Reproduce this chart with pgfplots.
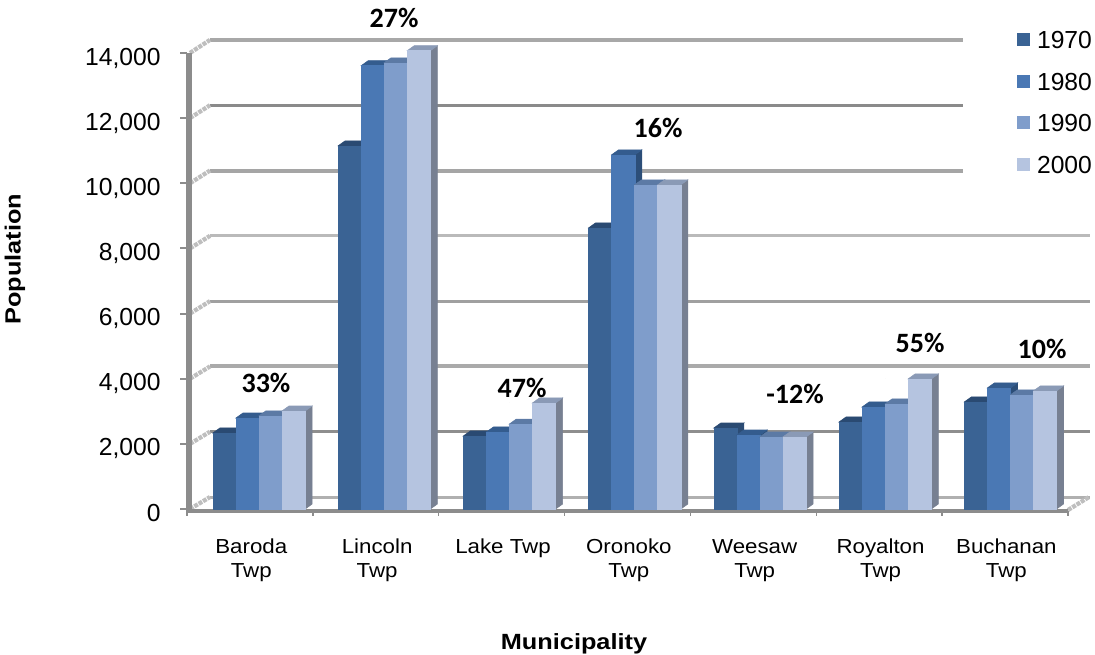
\documentclass[border=0pt]{standalone}
\usepackage{fontspec}
\usepackage{pgfplots}
\usepackage{pgfplotstable}
\pgfplotsset{compat=1.18}
\setmainfont{Liberation Sans}
\newfontfamily\catfont[FakeStretch=1.1]{Liberation Sans}
\newfontfamily\titlefont[FakeStretch=1.15]{Liberation Sans Bold}
\newfontfamily\pctfont{Carlito Bold}
% two-line category label, same height whatever the letters
\newcommand\cl[2]{\rule{0pt}{14pt}#1\\#2\rule[-4pt]{0pt}{4pt}}

\definecolor{c70}{RGB}{58,99,148}
\definecolor{c80}{RGB}{74,120,180}
\definecolor{c90}{RGB}{127,157,203}
\definecolor{c00}{RGB}{181,196,224}
\definecolor{s70}{RGB}{44,76,116}
\definecolor{s80}{RGB}{44,78,120}
\definecolor{s90}{RGB}{92,118,156}
\definecolor{s00}{RGB}{119,128,146}
\definecolor{t70}{RGB}{42,74,114}
\definecolor{t80}{RGB}{52,92,142}
\definecolor{t90}{RGB}{92,122,165}
\definecolor{t00}{RGB}{138,154,182}
\definecolor{axisgray}{RGB}{140,140,140}
\definecolor{wallgray}{RGB}{190,190,190}

% group centres are a little right of the category centres (depth of the 3D look)
\pgfplotstableread{
x     a1970 a1980 a1990 a2000
0.072 2335  2795  2860  3010
1.067 11150 13610 13700 14070
2.062 2243  2366  2610  3256
3.057 8632  10875 9953  9953
4.052 2488  2273  2212  2212
5.047 2673  3133  3226  3994
6.042 3287  3717  3502  3625
}\popdata

% one 3D bar per point: offset, front, side, top colour
\pgfplotsset{
  bar3d/.style n args={4}{
    only marks, scatter, mark=square*, mark size=0pt,
    visualization depends on={y \as \barval},
    scatter/@pre marker code/.code={
      \begingroup
      \pgftransformreset
      \path (axis direction cs:0,\barval);
      \pgfgetlastxy{\tmpx}{\tmpy}
      \xdef\barh{\tmpy}
      \endgroup
      \fill[#3] (#1+8.7pt,0pt) -- (#1+13.95pt,3.75pt) -- (#1+13.95pt,-\barh+3.75pt) -- (#1+8.7pt,-\barh) -- cycle;
      \fill[#4] (#1-8.7pt,0pt) -- (#1-3.45pt,3.75pt) -- (#1+13.95pt,3.75pt) -- (#1+8.7pt,0pt) -- cycle;
      \fill[#2] (#1-8.7pt,0pt) rectangle (#1+8.7pt,-\barh);
    },
    scatter/@post marker code/.code={},
    legend image code/.code={\fill[#2] (0pt,-4.5pt) rectangle (9pt,4.5pt);},
  },
}

\begin{document}
\begin{tikzpicture}
\useasboundingbox (0pt,0pt) rectangle (821.25pt,-490.5pt);
\begin{scope}[x=0.75pt,y=-0.75pt]
  % back wall and side wall
  \foreach \k/\xe/\col/\lw in {0/1090/176/3,1/1090/142/3,2/1090/170/4,3/1090/160/3,4/1090/186/3,5/963/165/4,6/963/138/3,7/963/168/4}{
    \pgfmathsetmacro{\yb}{497-65.3*\k}
    \pgfmathsetmacro{\yf}{509-65.15*\k}
    \definecolor{gl}{RGB}{\col,\col,\col}
    \draw[gl,line width=\lw*0.75pt] (210,\yb) -- (\xe,\yb);
    \draw[wallgray,line width=3.2pt,dash pattern=on 3pt off 0.8pt] (190,\yf) -- (210,\yb);
  }
  \draw[wallgray,line width=3.2pt,dash pattern=on 3pt off 0.8pt] (1068,510) -- (1089,497);
\end{scope}

\begin{axis}[
    at={(187*0.75pt,-511*0.75pt)},
    anchor=south west,
    scale only axis,
    width=660.75pt,
    height=343.5pt,
    clip=false,
    xmin=-0.5, xmax=6.5,
    ymin=-60, ymax=14000,
    axis x line=bottom,
    axis y line=left,
    axis line style={-, axisgray},
    x axis line style={line width=2.6pt},
    y axis line style={line width=3.8pt, xshift=1.5pt},
    xtick={0,1,2,3,4,5,6},
    xticklabels={\cl{Baroda}{Twp},\cl{Lincoln}{Twp},\cl{Lake Twp}{\mbox{}},\cl{Oronoko}{Twp},\cl{Weesaw}{Twp},\cl{Royalton}{Twp},\cl{Buchanan}{Twp}},
    minor xtick={-0.5,0.5,1.5,2.5,3.5,4.5,5.5,6.5},
    ytick={0,2000,4000,6000,8000,10000,12000,14000},
    tick align=outside,
    major tick length=5.25pt,
    minor tick length=3.5pt,
    x tick style={draw=none},
    minor x tick style={draw=axisgray,line width=1pt},
    y tick style={axisgray,line width=1.5pt},
    xticklabel style={font=\catfont\fontsize{15.2}{18}\selectfont,align=center,anchor=north,yshift=-9pt,xshift=1pt},
    yticklabel style={font=\fontsize{18.5}{20}\selectfont,text depth=0pt,xshift=-11pt,yshift=-2.6pt},
    /pgf/number format/assume math mode=true,
    /pgf/number format/1000 sep={,},
    scaled y ticks=false,
    legend cell align=left,
    legend style={
      at={(0.942,1.05)}, anchor=north west,
      draw=none, fill=none, inner sep=0pt,
      font=\fontsize{18.5}{20}\selectfont,
      row sep=17.6pt,
      nodes={inner sep=0pt,text height=13.6pt,text depth=0pt},
    },
]
\addplot[bar3d={-25.9pt}{c70}{s70}{t70}] table[x=x,y=a1970] {\popdata};
\addlegendentry{\hspace*{5.5pt}1970}
\addplot[bar3d={-8.6pt}{c80}{s80}{t80}] table[x=x,y=a1980] {\popdata};
\addlegendentry{\hspace*{5.5pt}1980}
\addplot[bar3d={8.6pt}{c90}{s90}{t90}] table[x=x,y=a1990] {\popdata};
\addlegendentry{\hspace*{5.5pt}1990}
\addplot[bar3d={25.9pt}{c00}{s00}{t00}] table[x=x,y=a2000] {\popdata};
\addlegendentry{\hspace*{5.5pt}2000}
\end{axis}

\begin{scope}[x=0.75pt,y=-0.75pt]
  \node[font=\titlefont\fontsize{16.5}{18}\selectfont,rotate=90] at (15,259) {Population};
  \node[font=\titlefont\fontsize{16.5}{18}\selectfont] at (574,644) {Municipality};
  \foreach \px/\py/\t in {266/383/33\%,394/18/27\%,522/388/47\%,658/128/16\%,795/394/-12\%,920/343/55\%,1042/349/10\%}{
    \node[font=\pctfont\fontsize{21}{24}\selectfont] at (\px,\py) {\t};
  }
\end{scope}
\end{tikzpicture}
\end{document}
